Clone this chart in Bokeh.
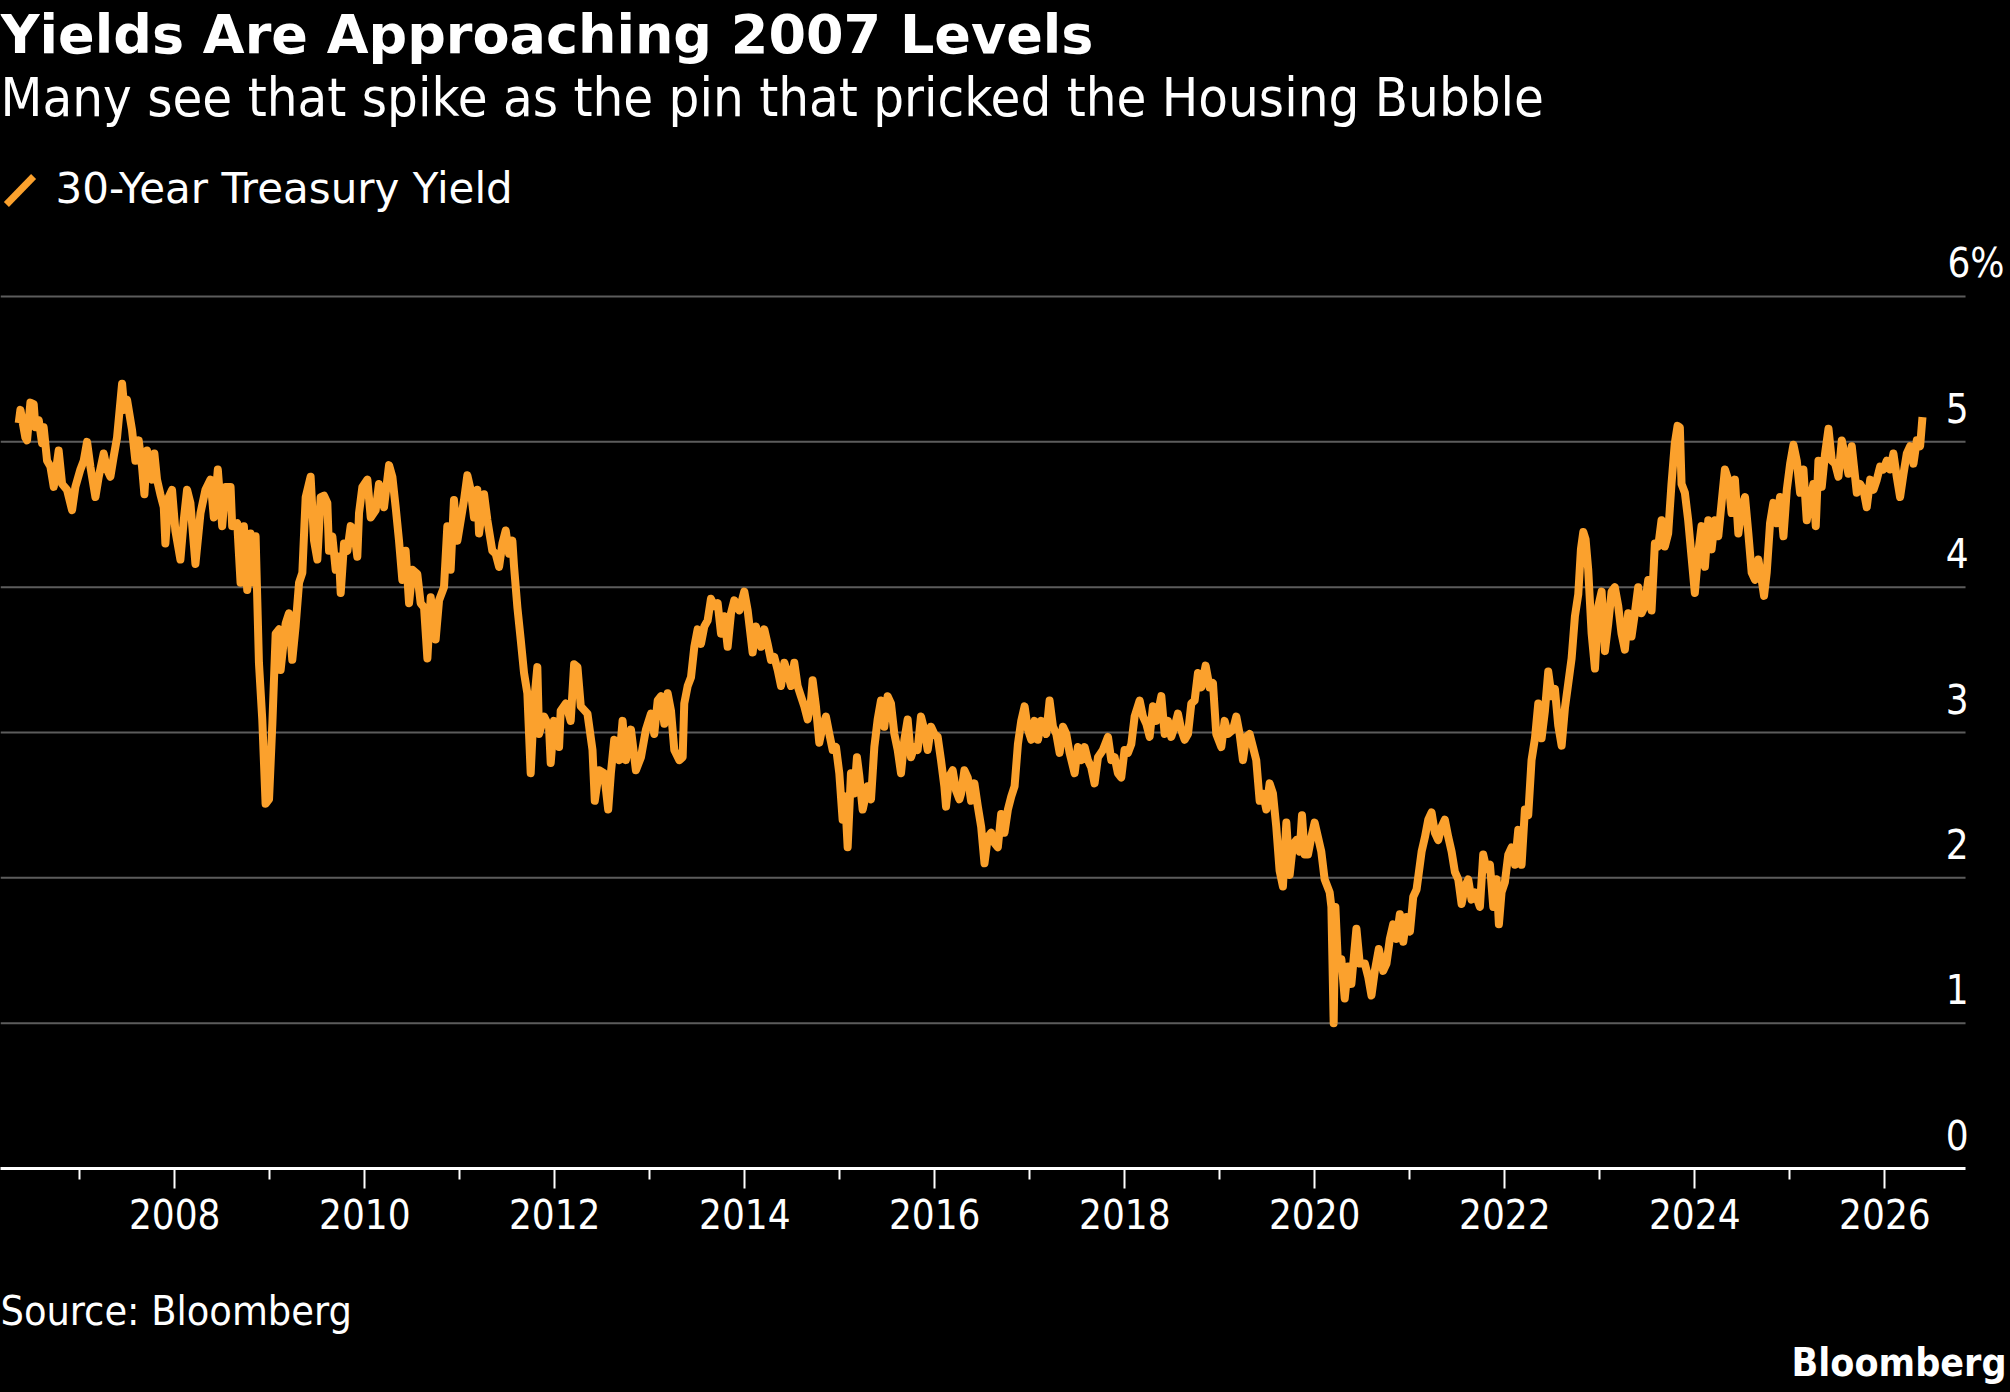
import numpy as np
import pandas as pd
from bokeh.plotting import figure
from bokeh.layouts import column
from bokeh.models import Range1d, FixedTicker, DatetimeTickFormatter, Label
from bokeh.core.properties import value
from bokeh.embed import file_html
from bokeh.resources import INLINE

TITLE = "Yields Are Approaching 2007 Levels"
SUBTITLE = "Many see that spike as the pin that pricked the Housing Bubble"
SERIES_NAME = "30-Year Treasury Yield"
SOURCE = "Source: Bloomberg"
BRAND = "Bloomberg"

# Observation dates (decimal years) and 30-year yields (%)
years_2006_2009 = [
    2006.357, 2006.375, 2006.427, 2006.445, 2006.480, 2006.515, 2006.533, 2006.568,
    2006.603, 2006.620, 2006.656, 2006.691, 2006.726, 2006.778, 2006.814, 2006.866,
    2006.919, 2006.954, 2007.007, 2007.042, 2007.077, 2007.112, 2007.165, 2007.200,
    2007.252, 2007.288, 2007.323, 2007.358, 2007.393, 2007.446, 2007.470, 2007.498,
    2007.551, 2007.586, 2007.621, 2007.656, 2007.681, 2007.709, 2007.762, 2007.786,
    2007.814, 2007.849, 2007.885, 2007.902, 2007.937, 2007.972, 2008.007, 2008.060,
    2008.095, 2008.130, 2008.165, 2008.218, 2008.271, 2008.323, 2008.376, 2008.411,
    2008.453, 2008.499, 2008.534, 2008.587, 2008.604, 2008.657, 2008.692, 2008.727,
    2008.762, 2008.797, 2008.833, 2008.850, 2008.885, 2008.920, 2008.955, 2008.991,
    2009.026, 2009.061, 2009.096, 2009.113, 2009.166, 2009.201, 2009.236, 2009.271,
    2009.307, 2009.342, 2009.377, 2009.429, 2009.465, 2009.500,
]
yields_2006_2009 = [
    5.13, 5.22, 5.03, 5.01, 5.27, 5.26, 5.10, 5.15,
    4.99, 5.10, 4.87, 4.83, 4.69, 4.94, 4.71, 4.67,
    4.53, 4.69, 4.81, 4.87, 5.00, 4.83, 4.62, 4.76,
    4.92, 4.81, 4.76, 4.90, 5.03, 5.40, 5.22, 5.29,
    5.08, 4.87, 5.01, 4.83, 4.64, 4.94, 4.74, 4.92,
    4.74, 4.64, 4.55, 4.30, 4.62, 4.67, 4.39, 4.19,
    4.46, 4.67, 4.58, 4.16, 4.51, 4.67, 4.74, 4.48,
    4.81, 4.42, 4.69, 4.69, 4.42, 4.44, 4.03, 4.42,
    3.98, 4.37, 4.03, 4.35, 3.48, 3.09, 2.51, 2.54,
    3.06, 3.68, 3.71, 3.43, 3.75, 3.82, 3.50, 3.73,
    4.03, 4.10, 4.62, 4.76, 4.32, 4.19,
]

years_2009_2012 = [
    2009.535, 2009.570, 2009.605, 2009.623, 2009.658, 2009.693, 2009.728, 2009.746,
    2009.781, 2009.816, 2009.851, 2009.886, 2009.921, 2009.939, 2009.974, 2010.027,
    2010.062, 2010.114, 2010.149, 2010.202, 2010.255, 2010.290, 2010.325, 2010.360,
    2010.395, 2010.430, 2010.466, 2010.501, 2010.553, 2010.588, 2010.624, 2010.659,
    2010.694, 2010.746, 2010.782, 2010.834, 2010.869, 2010.904, 2010.939, 2010.975,
    2011.010, 2011.045, 2011.080, 2011.115, 2011.150, 2011.185, 2011.203, 2011.256,
    2011.291, 2011.343, 2011.378, 2011.414, 2011.449, 2011.484, 2011.519, 2011.554,
    2011.572, 2011.607, 2011.642, 2011.677, 2011.712, 2011.747, 2011.782, 2011.817,
    2011.835, 2011.888, 2011.940, 2011.958, 2011.993, 2012.046, 2012.063, 2012.116,
    2012.168, 2012.204, 2012.239, 2012.274, 2012.344, 2012.397, 2012.421, 2012.467,
    2012.519, 2012.562, 2012.590, 2012.625, 2012.678, 2012.713, 2012.748, 2012.801,
    2012.853, 2012.906, 2012.958, 2013.011,
]
yields_2009_2012 = [
    4.62, 4.63, 4.58, 4.25, 4.35, 4.12, 4.21, 3.96,
    4.30, 4.25, 4.42, 4.39, 4.21, 4.51, 4.69, 4.74,
    4.48, 4.53, 4.71, 4.55, 4.84, 4.76, 4.55, 4.32,
    4.05, 4.25, 3.89, 4.12, 4.09, 3.89, 3.86, 3.51,
    3.93, 3.64, 3.91, 4.00, 4.42, 4.12, 4.60, 4.32,
    4.46, 4.60, 4.77, 4.67, 4.48, 4.67, 4.37, 4.64,
    4.46, 4.25, 4.23, 4.14, 4.30, 4.39, 4.23, 4.32,
    4.14, 3.86, 3.64, 3.41, 3.27, 2.72, 3.20, 3.45,
    2.99, 3.11, 3.04, 2.79, 3.08, 2.90, 3.15, 3.20,
    3.08, 3.47, 3.45, 3.18, 3.13, 2.88, 2.53, 2.74,
    2.72, 2.47, 2.72, 2.95, 2.81, 3.08, 2.81, 3.02,
    2.74, 2.83, 3.02, 3.13,
]

years_2013_2016 = [
    2013.046, 2013.082, 2013.117, 2013.152, 2013.187, 2013.222, 2013.257, 2013.310,
    2013.345, 2013.362, 2013.398, 2013.433, 2013.468, 2013.503, 2013.538, 2013.573,
    2013.608, 2013.643, 2013.678, 2013.714, 2013.749, 2013.784, 2013.819, 2013.854,
    2013.889, 2013.942, 2013.994, 2014.030, 2014.082, 2014.117, 2014.170, 2014.205,
    2014.240, 2014.275, 2014.310, 2014.346, 2014.381, 2014.416, 2014.451, 2014.486,
    2014.521, 2014.556, 2014.591, 2014.626, 2014.662, 2014.697, 2014.714, 2014.749,
    2014.784, 2014.819, 2014.854, 2014.890, 2014.925, 2014.960, 2014.995, 2015.030,
    2015.055, 2015.083, 2015.118, 2015.153, 2015.181, 2015.206, 2015.241, 2015.294,
    2015.329, 2015.364, 2015.399, 2015.434, 2015.469, 2015.504, 2015.539, 2015.575,
    2015.610, 2015.645, 2015.680, 2015.715, 2015.750, 2015.785, 2015.820, 2015.855,
    2015.890, 2015.926, 2015.961, 2015.996, 2016.031, 2016.066, 2016.101, 2016.119,
    2016.154, 2016.189, 2016.224, 2016.259,
]
yields_2013_2016 = [
    2.99, 3.22, 3.25, 3.06, 3.27, 3.15, 2.88, 2.81,
    2.83, 3.20, 3.32, 3.38, 3.59, 3.71, 3.61, 3.73,
    3.77, 3.92, 3.87, 3.89, 3.68, 3.80, 3.59, 3.82,
    3.91, 3.84, 3.97, 3.84, 3.55, 3.73, 3.59, 3.71,
    3.61, 3.50, 3.52, 3.43, 3.32, 3.48, 3.41, 3.32,
    3.48, 3.32, 3.25, 3.18, 3.09, 3.22, 3.36, 3.18,
    2.93, 3.04, 3.11, 2.99, 2.88, 2.90, 2.72, 2.40,
    2.56, 2.21, 2.72, 2.58, 2.83, 2.70, 2.47, 2.63,
    2.54, 2.90, 3.09, 3.22, 3.04, 3.25, 3.20, 2.99,
    2.88, 2.72, 2.95, 3.09, 2.83, 2.90, 2.88, 3.11,
    3.02, 2.88, 3.04, 2.99, 2.97, 2.81, 2.63, 2.49,
    2.70, 2.74, 2.60, 2.54,
]

years_2016_2019 = [
    2016.277, 2016.312, 2016.347, 2016.382, 2016.417, 2016.453, 2016.488, 2016.523,
    2016.558, 2016.593, 2016.628, 2016.663, 2016.698, 2016.733, 2016.769, 2016.804,
    2016.839, 2016.874, 2016.909, 2016.944, 2016.979, 2017.014, 2017.049, 2017.085,
    2017.120, 2017.172, 2017.207, 2017.243, 2017.278, 2017.313, 2017.348, 2017.383,
    2017.418, 2017.471, 2017.506, 2017.541, 2017.576, 2017.611, 2017.646, 2017.681,
    2017.717, 2017.769, 2017.822, 2017.857, 2017.892, 2017.927, 2017.962, 2017.997,
    2018.033, 2018.068, 2018.103, 2018.156, 2018.191, 2018.226, 2018.261, 2018.296,
    2018.331, 2018.384, 2018.419, 2018.454, 2018.489, 2018.524, 2018.559, 2018.594,
    2018.630, 2018.665, 2018.700, 2018.735, 2018.770, 2018.805, 2018.851, 2018.893,
    2018.928, 2018.963, 2019.016, 2019.051, 2019.086, 2019.139, 2019.174, 2019.209,
    2019.244, 2019.279, 2019.314, 2019.349, 2019.384, 2019.420, 2019.455, 2019.490,
    2019.525, 2019.560, 2019.595, 2019.630, 2019.665,
]
yields_2016_2019 = [
    2.58, 2.74, 2.69, 2.53, 2.65, 2.49, 2.35, 2.10,
    2.28, 2.31, 2.24, 2.21, 2.44, 2.31, 2.47, 2.56,
    2.63, 2.92, 3.08, 3.18, 3.02, 2.95, 3.08, 2.95,
    3.08, 2.99, 3.22, 3.04, 2.99, 2.86, 3.04, 2.99,
    2.86, 2.72, 2.90, 2.81, 2.90, 2.81, 2.76, 2.65,
    2.83, 2.88, 2.97, 2.81, 2.83, 2.72, 2.69, 2.88,
    2.86, 2.92, 3.11, 3.22, 3.11, 3.06, 2.97, 3.18,
    3.08, 3.25, 2.99, 3.08, 2.97, 3.04, 3.13, 3.02,
    2.95, 2.99, 3.20, 3.22, 3.41, 3.31, 3.46, 3.31,
    3.34, 2.99, 2.90, 3.08, 2.99, 3.02, 3.11, 2.99,
    2.81, 2.97, 2.99, 2.90, 2.81, 2.53, 2.58, 2.47,
    2.65, 2.58, 2.35, 2.05, 1.94,
]

years_2019_2023 = [
    2019.701, 2019.736, 2019.771, 2019.806, 2019.841, 2019.866, 2019.894, 2019.929,
    2019.964, 2019.999, 2020.034, 2020.069, 2020.104, 2020.157, 2020.175, 2020.199,
    2020.217, 2020.245, 2020.280, 2020.315, 2020.350, 2020.385, 2020.438, 2020.473,
    2020.526, 2020.561, 2020.596, 2020.631, 2020.673, 2020.719, 2020.754, 2020.789,
    2020.824, 2020.859, 2020.894, 2020.930, 2020.965, 2021.000, 2021.035, 2021.070,
    2021.123, 2021.158, 2021.193, 2021.228, 2021.263, 2021.298, 2021.333, 2021.368,
    2021.404, 2021.439, 2021.474, 2021.509, 2021.544, 2021.579, 2021.614, 2021.649,
    2021.685, 2021.737, 2021.772, 2021.807, 2021.843, 2021.878, 2021.913, 2021.937,
    2021.965, 2022.000, 2022.036, 2022.071, 2022.106, 2022.141, 2022.176, 2022.211,
    2022.246, 2022.281, 2022.317, 2022.352, 2022.387, 2022.422, 2022.457, 2022.492,
    2022.527, 2022.562, 2022.598, 2022.633, 2022.668, 2022.703, 2022.738, 2022.773,
    2022.801, 2022.826, 2022.850, 2022.878, 2022.914, 2022.949, 2022.984, 2023.019,
    2023.054, 2023.089, 2023.124,
]
yields_2019_2023 = [
    2.38, 2.02, 2.23, 2.26, 2.18, 2.43, 2.16, 2.16,
    2.28, 2.38, 2.28, 2.18, 1.99, 1.90, 1.80, 1.00,
    1.80, 1.39, 1.44, 1.17, 1.39, 1.27, 1.65, 1.41,
    1.41, 1.32, 1.19, 1.36, 1.51, 1.36, 1.41, 1.58,
    1.68, 1.58, 1.75, 1.56, 1.73, 1.63, 1.87, 1.92,
    2.18, 2.28, 2.40, 2.45, 2.31, 2.26, 2.35, 2.40,
    2.28, 2.18, 2.04, 1.99, 1.82, 1.94, 1.99, 1.85,
    1.90, 1.80, 2.16, 2.06, 2.09, 1.80, 1.99, 1.68,
    1.90, 1.97, 2.16, 2.21, 2.09, 2.33, 2.09, 2.47,
    2.43, 2.81, 2.96, 3.20, 2.96, 3.15, 3.42, 3.25,
    3.30, 3.05, 2.91, 3.17, 3.34, 3.51, 3.80, 3.95,
    4.26, 4.38, 4.33, 4.12, 3.68, 3.44, 3.87, 3.97,
    3.56, 3.75, 3.97,
]

years_2023_2026 = [
    2023.158, 2023.194, 2023.229, 2023.264, 2023.299, 2023.334, 2023.369, 2023.404,
    2023.439, 2023.474, 2023.510, 2023.545, 2023.580, 2023.615, 2023.650, 2023.685,
    2023.720, 2023.755, 2023.790, 2023.819, 2023.843, 2023.861, 2023.896, 2023.931,
    2023.966, 2024.001, 2024.036, 2024.071, 2024.107, 2024.142, 2024.177, 2024.212,
    2024.247, 2024.282, 2024.317, 2024.352, 2024.387, 2024.422, 2024.458, 2024.493,
    2024.528, 2024.563, 2024.598, 2024.633, 2024.668, 2024.703, 2024.728, 2024.756,
    2024.791, 2024.826, 2024.861, 2024.896, 2024.932, 2024.967, 2025.002, 2025.037,
    2025.072, 2025.107, 2025.142, 2025.177, 2025.212, 2025.247, 2025.272, 2025.300,
    2025.335, 2025.370, 2025.406, 2025.441, 2025.476, 2025.511, 2025.546, 2025.581,
    2025.616, 2025.651, 2025.686, 2025.704, 2025.739, 2025.774, 2025.809, 2025.845,
    2025.880, 2025.915, 2025.950, 2025.985, 2026.020, 2026.055, 2026.090, 2026.125,
    2026.160, 2026.196, 2026.231, 2026.266, 2026.301, 2026.336, 2026.371, 2026.396,
]
yields_2023_2026 = [
    4.00, 3.87, 3.68, 3.57, 3.82, 3.66, 3.82, 4.00,
    3.82, 3.87, 4.05, 3.84, 4.30, 4.28, 4.46, 4.28,
    4.37, 4.71, 4.99, 5.11, 5.10, 4.71, 4.65, 4.46,
    4.21, 3.96, 4.23, 4.42, 4.14, 4.46, 4.26, 4.46,
    4.35, 4.58, 4.81, 4.74, 4.51, 4.74, 4.37, 4.55,
    4.62, 4.37, 4.10, 4.05, 4.19, 4.05, 3.94, 4.10,
    4.44, 4.58, 4.44, 4.62, 4.35, 4.67, 4.85, 4.98,
    4.87, 4.65, 4.81, 4.46, 4.60, 4.71, 4.42, 4.87,
    4.69, 4.92, 5.09, 4.87, 4.85, 4.76, 5.01, 4.90,
    4.78, 4.97, 4.76, 4.65, 4.71, 4.67, 4.55, 4.74,
    4.67, 4.74, 4.83, 4.81, 4.87, 4.81, 4.92, 4.76,
    4.62, 4.78, 4.92, 4.97, 4.85, 5.01, 4.97, 5.17,
]

years = (years_2006_2009 + years_2009_2012 + years_2013_2016
         + years_2016_2019 + years_2019_2023 + years_2023_2026)
yields = (yields_2006_2009 + yields_2009_2012 + yields_2013_2016
          + yields_2016_2019 + yields_2019_2023 + yields_2023_2026)

y_ticks = [0, 1, 2, 3, 4, 5, 6]
y_tick_labels = ["0", "1", "2", "3", "4", "5", "6%"]
x_label_years = list(range(2008, 2027, 2))
x_minor_years = list(range(2007, 2027, 2))

# Colours and fonts
BG = "#000000"
ORANGE = "#FBA12D"
GRID = "#5c5c5c"
WHITE = "#FFFFFF"
FONT = "DejaVu Sans Condensed"
FONT_WIDE = "DejaVu Sans"


def to_ms(y):
    """Decimal year -> epoch milliseconds."""
    yr = int(np.floor(y))
    a = pd.Timestamp(year=yr, month=1, day=1)
    b = pd.Timestamp(year=yr + 1, month=1, day=1)
    return (a + (b - a) * (y - yr)).value / 1e6


# Canvas geometry
W = 2010
MAIN_H = 1262             # chart canvas (frame + x axis strip)
FOOT_H = 130              # footer canvas
FRAME_H = 1168            # plot frame ends on the x axis
PX_PER_YEAR = 95.0
PX_PER_PCT = 145.33
YEAR_AT_LEFT = 2008 - 174.3 / PX_PER_YEAR
GRID_RIGHT_PX = 1965

x_start = to_ms(YEAR_AT_LEFT)
x_end = to_ms(YEAR_AT_LEFT + W / PX_PER_YEAR)
grid_end = to_ms(YEAR_AT_LEFT + GRID_RIGHT_PX / PX_PER_YEAR)


def cx(px):
    """Canvas pixel column -> x data coordinate."""
    return x_start + (x_end - x_start) * px / W


def cy(py):
    """Canvas pixel row -> y data coordinate."""
    return (FRAME_H - py) / PX_PER_PCT


dates = [to_ms(y) for y in years]

p = figure(
    width=W, height=MAIN_H,
    x_axis_type="datetime", y_axis_location=None,
    x_range=Range1d(x_start, x_end),
    y_range=Range1d(0, FRAME_H / PX_PER_PCT),
    output_backend="svg", toolbar_location=None, title=None,
    min_border_left=0, min_border_right=0, min_border_top=0,
    min_border_bottom=MAIN_H - FRAME_H,
    background_fill_color=BG, border_fill_color=BG,
    outline_line_color=None,
)
p.grid.visible = False

# Horizontal gridlines (stop short of the right-hand labels)
grid_vals = y_ticks[1:]
p.segment(x0=[x_start] * len(grid_vals), y0=grid_vals,
          x1=[grid_end] * len(grid_vals), y1=grid_vals,
          line_color=GRID, line_width=2)

# Yield series
p.line(dates, yields, line_color=ORANGE, line_width=8, line_join="round")

# Right-hand value labels, sitting above their gridlines
p.text(x=[grid_end] * 6, y=y_ticks[:-1], text=y_tick_labels[:-1],
       text_align="right", text_baseline="alphabetic",
       x_offset=3, y_offset=-34,
       text_font=value(FONT), text_font_size="40px", text_color=WHITE)
p.text(x=[grid_end], y=[y_ticks[-1]], text=[y_tick_labels[-1]],
       text_align="right", text_baseline="alphabetic",
       x_offset=39, y_offset=-34,
       text_font=value(FONT), text_font_size="40px", text_color=WHITE)

# X axis
ax = p.xaxis[0]
ax.ticker = FixedTicker(ticks=[to_ms(y) for y in x_label_years],
                        minor_ticks=[to_ms(y) for y in x_minor_years])
fmt = "%Y"
ax.formatter = DatetimeTickFormatter(
    microseconds=fmt, milliseconds=fmt, seconds=fmt, minsec=fmt, minutes=fmt,
    hourmin=fmt, hours=fmt, days=fmt, months=fmt, years=fmt)
ax.bounds = (x_start, grid_end)
ax.axis_line_color = WHITE
ax.axis_line_width = 3
ax.major_tick_line_color = WHITE
ax.major_tick_line_width = 2
ax.major_tick_in = 0
ax.major_tick_out = 20
ax.minor_tick_line_color = WHITE
ax.minor_tick_line_width = 2
ax.minor_tick_in = 0
ax.minor_tick_out = 11
ax.major_label_text_color = WHITE
ax.major_label_text_font = FONT
ax.major_label_text_font_size = "40px"
ax.major_label_standoff = 10

# Headline block
p.add_layout(Label(x=cx(0), y=cy(34), text=TITLE, text_color=WHITE,
                   text_font=FONT_WIDE, text_font_style="bold",
                   text_font_size="54px", text_baseline="alphabetic"))
p.add_layout(Label(x=cx(0), y=cy(97), text=SUBTITLE, text_color=WHITE,
                   text_font=FONT, text_font_size="54px",
                   text_baseline="alphabetic"))

# Legend: slanted key and series name
p.scatter(x=[cx(19.5)], y=[cy(190)], marker="dash", size=39, angle=0.80,
          line_color=ORANGE, line_width=7)
p.add_layout(Label(x=cx(55), y=cy(188), text=SERIES_NAME, text_color=WHITE,
                   text_font=FONT_WIDE, text_font_size="42px",
                   text_baseline="alphabetic"))

# Footer strip: source note and brand mark
f = figure(
    width=W, height=FOOT_H,
    x_range=Range1d(0, W), y_range=Range1d(FOOT_H, 0),
    x_axis_location=None, y_axis_location=None,
    output_backend="svg", toolbar_location=None, title=None,
    min_border_left=0, min_border_right=0, min_border_top=0,
    min_border_bottom=0,
    background_fill_color=BG, border_fill_color=BG,
    outline_line_color=None,
)
f.grid.visible = False
f.add_layout(Label(x=0, y=1310 - MAIN_H, text=SOURCE, text_color=WHITE,
                   text_font=FONT, text_font_size="41px",
                   text_baseline="alphabetic"))
f.add_layout(Label(x=2006, y=1362 - MAIN_H, text=BRAND, text_color=WHITE,
                   text_font=FONT, text_font_style="bold",
                   text_font_size="39px", text_align="right",
                   text_baseline="alphabetic"))

page = column(p, f, spacing=0, styles={"background-color": BG})

open("out.html", "w").write(file_html(page, INLINE))
